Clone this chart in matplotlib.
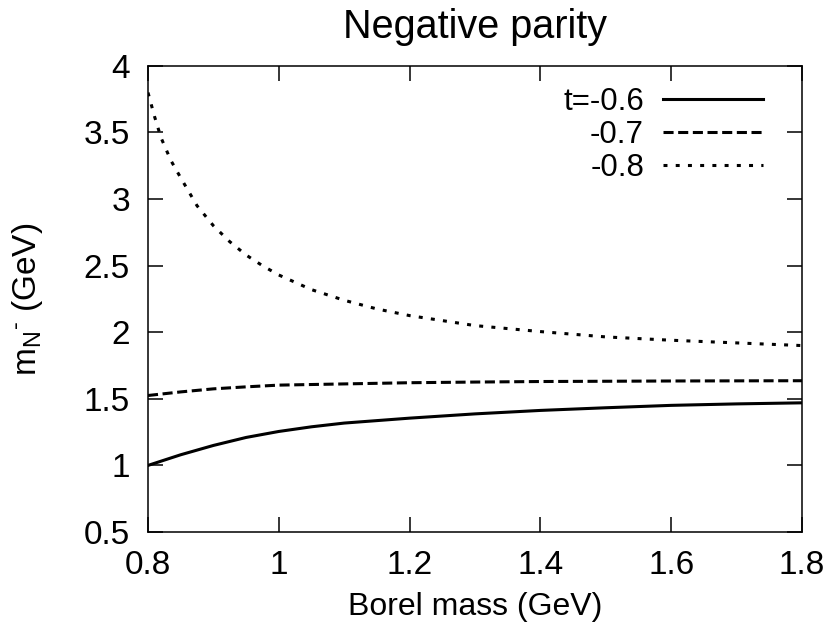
import numpy as np
import matplotlib
matplotlib.use("Agg")
import matplotlib.pyplot as plt

plt.rcParams['font.family'] = ['Liberation Sans', 'DejaVu Sans']
plt.rcParams['mathtext.fontset'] = 'custom'
plt.rcParams['mathtext.rm'] = 'Liberation Sans'
plt.rcParams['mathtext.it'] = 'Liberation Sans'

# values (Borel mass in GeV -> mass in GeV)
x_06 = [0.80, 0.85, 0.90, 0.95, 1.00, 1.05, 1.10, 1.20, 1.30, 1.40, 1.50, 1.60, 1.70, 1.80]
y_06 = [1.00, 1.08, 1.15, 1.21, 1.255, 1.29, 1.318, 1.355, 1.387, 1.413, 1.433, 1.451, 1.462, 1.470]

x_07 = [0.80, 0.85, 0.90, 0.95, 1.00, 1.10, 1.20, 1.30, 1.40, 1.50, 1.60, 1.70, 1.80]
y_07 = [1.525, 1.552, 1.575, 1.59, 1.603, 1.612, 1.621, 1.626, 1.630, 1.632, 1.634, 1.635, 1.636]

x_08 = [0.80, 0.81, 0.82, 0.835, 0.85, 0.875, 0.90, 0.925, 0.95, 0.975, 1.00, 1.05, 1.10,
        1.15, 1.20, 1.30, 1.40, 1.50, 1.60, 1.70, 1.80]
y_08 = [3.80, 3.62, 3.46, 3.29, 3.16, 2.95, 2.80, 2.68, 2.58, 2.50, 2.43, 2.32, 2.24,
        2.175, 2.125, 2.05, 2.005, 1.965, 1.94, 1.92, 1.90]

labels = ['t=-0.6', '-0.7', '-0.8']
xticks = [0.8, 1.0, 1.2, 1.4, 1.6, 1.8]
yticks = [0.5, 1.0, 1.5, 2.0, 2.5, 3.0, 3.5, 4.0]

fig = plt.figure(figsize=(8.3, 6.35), dpi=100)
ax = fig.add_axes([0.1783, 0.1622, 0.788, 0.734])

lw = 2.2
ax.plot(x_06, y_06, color='black', lw=lw, linestyle='-', label=labels[0])
ax.plot(x_07, y_07, color='black', lw=lw, linestyle=(0, (3.3, 1.5)), label=labels[1])
ax.plot(x_08, y_08, color='black', lw=lw, linestyle=(0, (1.3, 2.7)), label=labels[2])

ax.set_xlim(0.8, 1.8)
ax.set_ylim(0.5, 4.0)
ax.set_xticks(xticks)
ax.set_xticklabels(['0.8', '1', '1.2', '1.4', '1.6', '1.8'])
ax.set_yticks(yticks)
ax.set_yticklabels(['0.5', '1', '1.5', '2', '2.5', '3', '3.5', '4'])
ax.tick_params(direction='in', length=10.8, width=1.1, top=True, right=True,
               labelsize=24, pad=13)
for s in ax.spines.values():
    s.set_linewidth(1.1)

ax.set_title('Negative parity', fontsize=28.5, pad=20)
ax.set_xlabel('Borel mass (GeV)', fontsize=23, labelpad=8)
ax.set_ylabel(r'$\mathrm{{m_N}^{\text{-}}}$ (GeV)', fontsize=24)
ax.yaxis.set_label_coords(-0.158, 0.5)

ax.legend(loc='upper right', bbox_to_anchor=(0.94, 0.955), frameon=False,
          markerfirst=False, fontsize=22.5, handlelength=3.2, handletextpad=0.6,
          labelspacing=0.1, borderpad=0, borderaxespad=0)

fig.savefig('out.png', dpi=100)
